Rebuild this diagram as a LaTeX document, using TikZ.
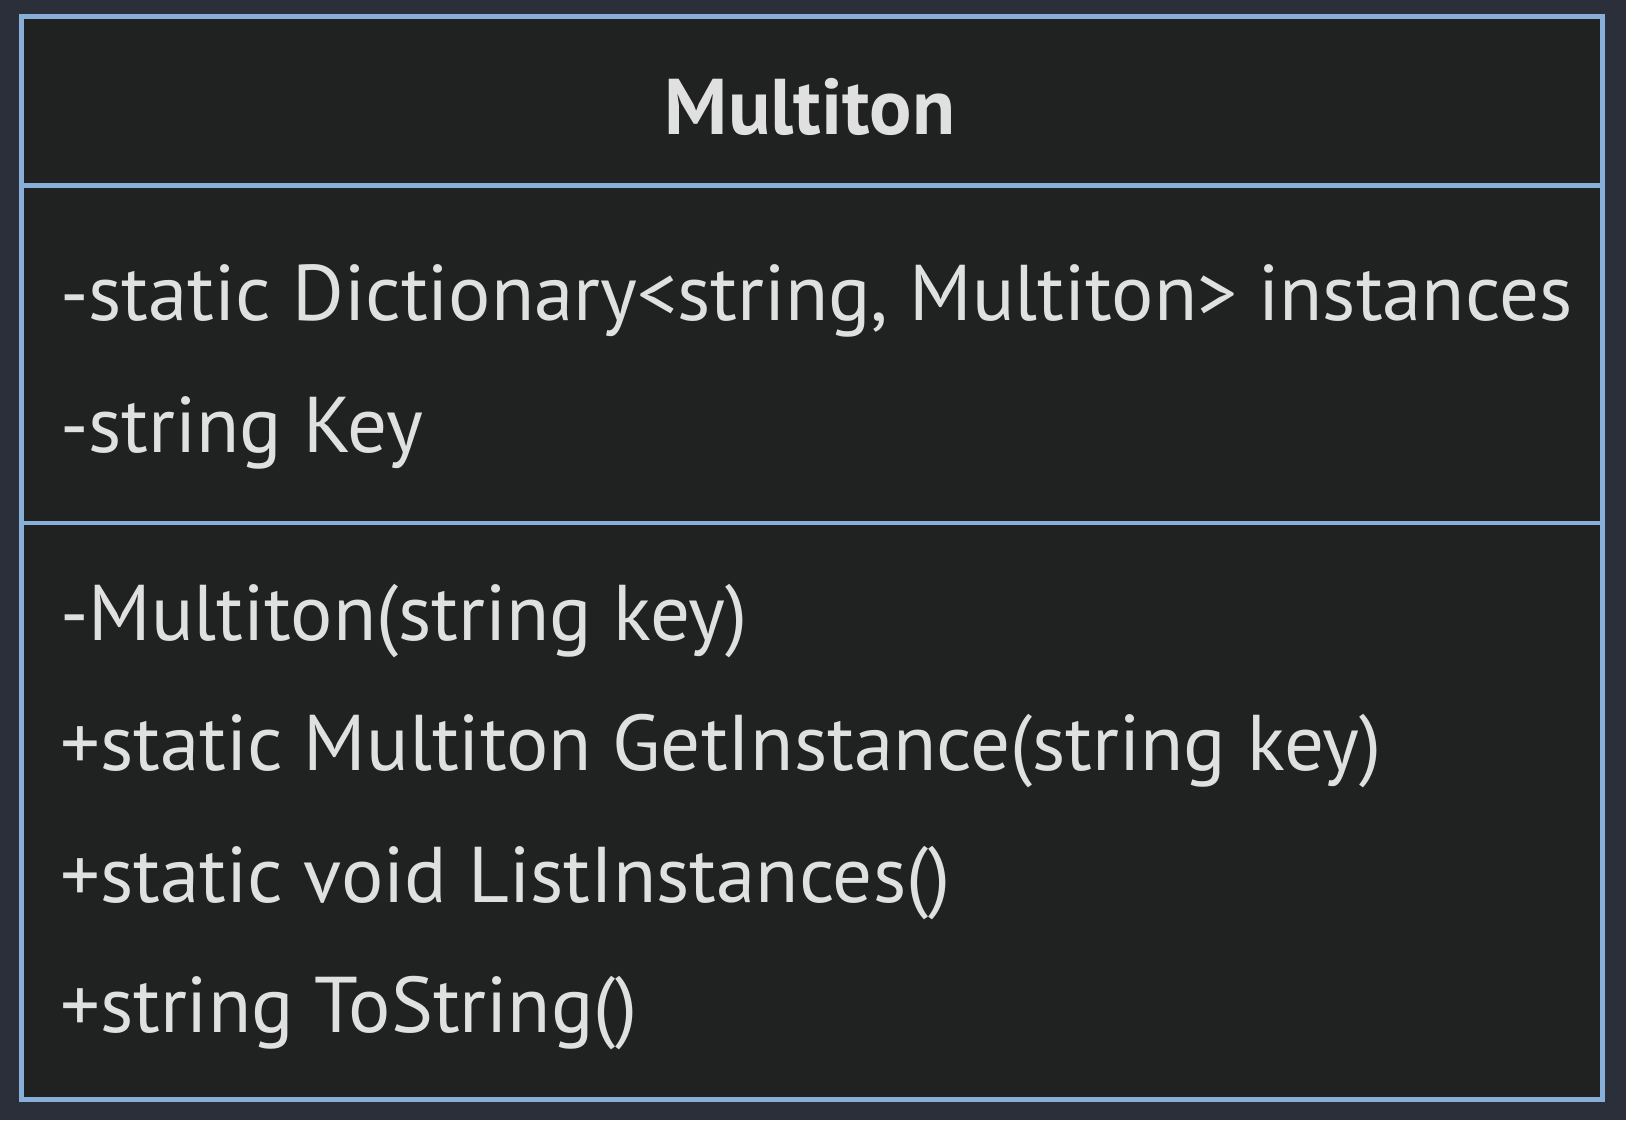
\documentclass[tikz,border=0pt]{standalone}
\usepackage{fontspec}
\setmainfont{PT Sans}
\definecolor{fondo}{HTML}{2B2F3A}
\definecolor{caja}{HTML}{202222}
\definecolor{borde}{HTML}{88AEDA}
\definecolor{texto}{HTML}{E0E0E0}
\begin{document}
\begin{tikzpicture}[x=1pt, y=-1pt, font=\fontsize{79}{90}\selectfont]
    % --- Estilos de la clase ---
    \tikzset{
        classbox/.style={draw=borde, fill=caja, line width=4.5pt},
        divider/.style={draw=borde, line width=4.5pt},
        member/.style={anchor=base west, inner sep=0pt, text=texto},
        classname/.style={anchor=base, inner sep=0pt, text=texto, font=\fontsize{79}{90}\selectfont\bfseries}
    }

    % --- Fondo y marco ---
    \fill[fondo] (0,0) rectangle (1626,1120);
    \useasboundingbox (0,0) rectangle (1626,1120);
    \draw[classbox] (21.5,16.5) rectangle (1602.5,1099.5);
    \draw[divider] (21.5,185.5) -- (1602.5,185.5);
    \draw[divider] (21.5,523) -- (1602.5,523);

    % --- Nombre de la clase ---
    \node[classname] (titulo) at (810,134) {Multiton};

    % --- Atributos ---
    \foreach \y/\txt/\n in {
        320.7/{-static Dictionary<string, Multiton> instances}/a1,
        452.7/{-string Key}/a2
    } {
        \node[member] (\n) at (60,\y) {\txt};
    }

    % --- Métodos ---
    \foreach \y/\txt/\n in {
        640/{-Multiton(string key)}/m1,
        770.7/{+static Multiton GetInstance(string key)}/m2,
        902/{+static void ListInstances()}/m3,
        1032.7/{+string ToString()}/m4
    } {
        \node[member] (\n) at (60,\y) {\txt};
    }
\end{tikzpicture}
\end{document}
